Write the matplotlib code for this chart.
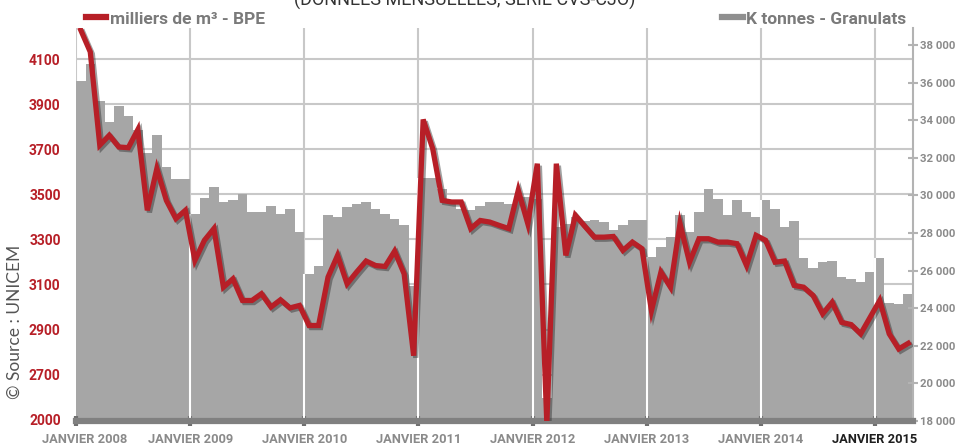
import numpy as np
import matplotlib
matplotlib.use("Agg")
import matplotlib.pyplot as plt
from matplotlib import patheffects
from matplotlib.lines import Line2D

# mois de janvier 2008 a avril 2015 (88 mois)
year_labels = ["JANVIER 2008", "JANVIER 2009", "JANVIER 2010", "JANVIER 2011",
               "JANVIER 2012", "JANVIER 2013", "JANVIER 2014", "JANVIER 2015"]
year_months = [0, 12, 24, 36, 48, 60, 72, 84]

# K tonnes - Granulats (axe de droite)
granulats = [36100, 37000, 35000, 33900, 34750, 34200, 33500, 32250, 33200, 31500, 30850, 30850,
             29000, 29850, 30450, 29650, 29750, 30100, 29100, 29100, 29450, 29000, 29250, 28050,
             25800, 26250, 28950, 28850, 29400, 29550, 29650, 29250, 29000, 28750, 28450, 25200,
             30900, 30900, 30350, 29650, 29300, 29200, 29450, 29650, 29650, 29550, 29750, 29900,
             29800, 19200, 28300, 28500, 28850, 28650, 28700, 28600, 28150, 28400, 28700, 28700,
             26700, 27250, 27800, 28950, 28050, 29100, 30350, 29800, 28950, 29750, 29100, 28850,
             29750, 29300, 28300, 28650, 26650, 26150, 26450, 26500, 25650, 25550, 25400, 25900,
             26650, 24300, 24200, 24750]

# milliers de m3 - BPE (axe de gauche)
bpe = [4229, 4132, 3718, 3762, 3710, 3707, 3787, 3429, 3614, 3473, 3392, 3429,
       3207, 3296, 3348, 3088, 3125, 3029, 3029, 3059, 3000, 3032, 2996, 3007,
       2918, 2918, 3133, 3229, 3103, 3155, 3204, 3184, 3180, 3248, 3147, 2784,
       3832, 3703, 3473, 3466, 3466, 3348, 3384, 3377, 3362, 3348, 3518, 3370,
       3636, 1950, 3636, 3229, 3407, 3358, 3310, 3310, 3313, 3251, 3288, 3259,
       2984, 3155, 3088, 3370, 3199, 3303, 3303, 3288, 3288, 3281, 3184, 3318,
       3296, 3199, 3204, 3096, 3088, 3051, 2970, 3021, 2932, 2922, 2881, 2955,
       3029, 2881, 2814, 2839]

bpe_ticks = [2000, 2700, 2900, 3100, 3300, 3500, 3700, 3900, 4100]
gran_ticks = list(range(18000, 38001, 2000))

RED = "#b71f27"
BAR = "#a6a6a6"
GRID = "#c8c8c8"
TXT = "#8a8a8a"
plt.rcParams["font.family"] = ["Roboto", "DejaVu Sans"]


# axe gauche coupe : 2000 -> 2700 compresse
def fwd(v):
    v = np.asarray(v, float)
    return np.where(v >= 2700, v, 2700 - (2700 - v) * 200 / 700)


def inv(u):
    u = np.asarray(u, float)
    return np.where(u >= 2700, u, 2700 - (2700 - u) * 700 / 200)


W, H = 958, 448
fig = plt.figure(figsize=(W / 100, H / 100), dpi=100)
pos = [76 / W, (H - 421) / H, (913 - 76) / W, (421 - 28) / H]
n = len(bpe)
x = np.arange(n)

# grille
axg = fig.add_axes(pos, zorder=0)
axg.set_yscale("function", functions=(fwd, inv))
axg.set_ylim(1980, 4238)
axg.set_xlim(0, n)
axg.set_yticks(bpe_ticks)
axg.set_yticklabels([str(t) for t in bpe_ticks], color=RED, fontweight="bold", fontsize=10)
axg.tick_params(axis="y", length=0, pad=11)
axg.set_xticks([])
axg.grid(axis="y", color=GRID, lw=1.5)
for m in year_months:
    axg.axvline(m, color=GRID, lw=1.5)
for s in axg.spines.values():
    s.set_visible(False)

# barres granulats
axb = fig.add_axes(pos, zorder=1)
axb.patch.set_visible(False)
axb.bar(x, granulats, width=1, align="edge", color=BAR, lw=0)
axb.vlines(year_months[1:], 18000, [granulats[m] for m in year_months[1:]], color="white", lw=1.5)
axb.set_xlim(0, n)
axb.set_ylim(18000, 38904)
axb.yaxis.tick_right()
axb.set_yticks(gran_ticks)
axb.set_yticklabels([f"{t // 1000} 000" for t in gran_ticks], fontweight="bold", fontsize=8.2)
axb.tick_params(axis="y", direction="inout", length=6.5, width=1.5, color="#b3b3b3",
                labelcolor=TXT, pad=2)
axb.set_xticks(year_months)
axb.set_xticklabels([])
axb.tick_params(axis="x", direction="inout", length=7, width=3, color="#6f6f6f")
for side in ["top", "left"]:
    axb.spines[side].set_visible(False)
axb.spines["right"].set_color("#b3b3b3")
axb.spines["right"].set_linewidth(1.5)
axb.spines["bottom"].set_color("#808080")
axb.spines["bottom"].set_linewidth(4.5)

for m, lab in zip(year_months, year_labels):
    dx = 6 if m == 0 else 0
    axb.annotate(lab, xy=(m, 0), xycoords=("data", "axes fraction"), xytext=(dx, -13.3),
                 textcoords="offset points", ha="center", va="center", fontsize=9.3,
                 fontweight="bold", color="#1e1e1e" if m == 84 else TXT, annotation_clip=False)

# courbe BPE
axl = fig.add_axes(pos, zorder=2)
axl.patch.set_visible(False)
axl.set_yscale("function", functions=(fwd, inv))
axl.set_ylim(1980, 4238)
axl.set_xlim(0, n)
axl.plot(x + 0.5, bpe, color=RED, lw=3.8, solid_joinstyle="miter",
         path_effects=[patheffects.SimpleLineShadow(offset=(1.5, -1.5), shadow_color="#303030", alpha=0.45),
                       patheffects.Normal()])
axl.axis("off")

leg_font = {"weight": "bold", "size": 12.5}
fig.legend(handles=[Line2D([], [], color=RED, lw=4.5)], labels=["milliers de m³ - BPE"],
           loc="center left", bbox_to_anchor=(70 / W, 1 - 19 / H), frameon=False,
           handlelength=1.2, handletextpad=0.2, prop=leg_font, labelcolor="#7a7a7a")
fig.legend(handles=[Line2D([], [], color="#8f8f8f", lw=4.5)], labels=["K tonnes - Granulats"],
           loc="center right", bbox_to_anchor=(922 / W, 1 - 19 / H), frameon=False,
           handlelength=1.2, handletextpad=0.2, prop=leg_font, labelcolor="#7a7a7a")

fig.text(0.485, 1 - 5 / H, "(DONNÉES MENSUELLES, SÉRIE CVS-CJO)", ha="center", va="baseline",
         fontsize=13, color="#333333")
fig.text(15 / W, 1 - 322 / H, "© Source : UNICEM", rotation=90, ha="center", va="center",
         fontsize=12.5, color="#555555", family=["Lato", "DejaVu Sans"])

fig.savefig("out.png", dpi=100, facecolor="white")
